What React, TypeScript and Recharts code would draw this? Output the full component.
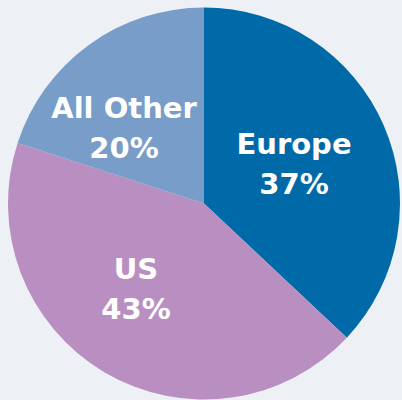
import React from "react";
import { PieChart, Pie, Cell } from "recharts";

const regions = ["Europe", "US", "All Other"];
const shares = [37, 43, 20];

const colors = ["#0069a8", "#b98fc2", "#789dc8"];

// label anchor offsets from pie centre (first line baseline)
const labelOffsets: Record<string, [number, number]> = {
  Europe: [90, -50],
  US: [-68, 75],
  "All Other": [-80, -86],
};

const data = regions.map((name, i) => ({ name, value: shares[i] }));

const renderLabel = (props: any) => {
  const { cx, cy, name, value } = props;
  const [dx, dy] = labelOffsets[name] || [0, 0];
  const x = cx + dx;
  const y = cy + dy;
  return (
    <text
      x={x}
      y={y}
      fill="#ffffff"
      textAnchor="middle"
      fontFamily="'DejaVu Sans', Verdana, sans-serif"
      fontWeight="bold"
      fontSize={29}
    >
      <tspan x={x} y={y}>
        {name}
      </tspan>
      <tspan x={x} y={y + 40}>
        {value}%
      </tspan>
    </text>
  );
};

const App = () => {
  return (
    <div
      style={{
        position: "absolute",
        left: 0,
        top: 0,
        width: 402,
        height: 400,
        background: "#edf1f6",
        overflow: "hidden",
      }}
    >
      <PieChart width={402} height={400} margin={{ top: 0, right: 0, bottom: 0, left: 0 }}>
        <Pie
          data={data}
          dataKey="value"
          nameKey="name"
          cx={204}
          cy={203.5}
          outerRadius={196}
          startAngle={90}
          endAngle={-270}
          stroke="none"
          label={renderLabel}
          labelLine={false}
          isAnimationActive={false}
        >
          {data.map((d, i) => (
            <Cell key={d.name} fill={colors[i]} />
          ))}
        </Pie>
      </PieChart>
    </div>
  );
};

export default App;
